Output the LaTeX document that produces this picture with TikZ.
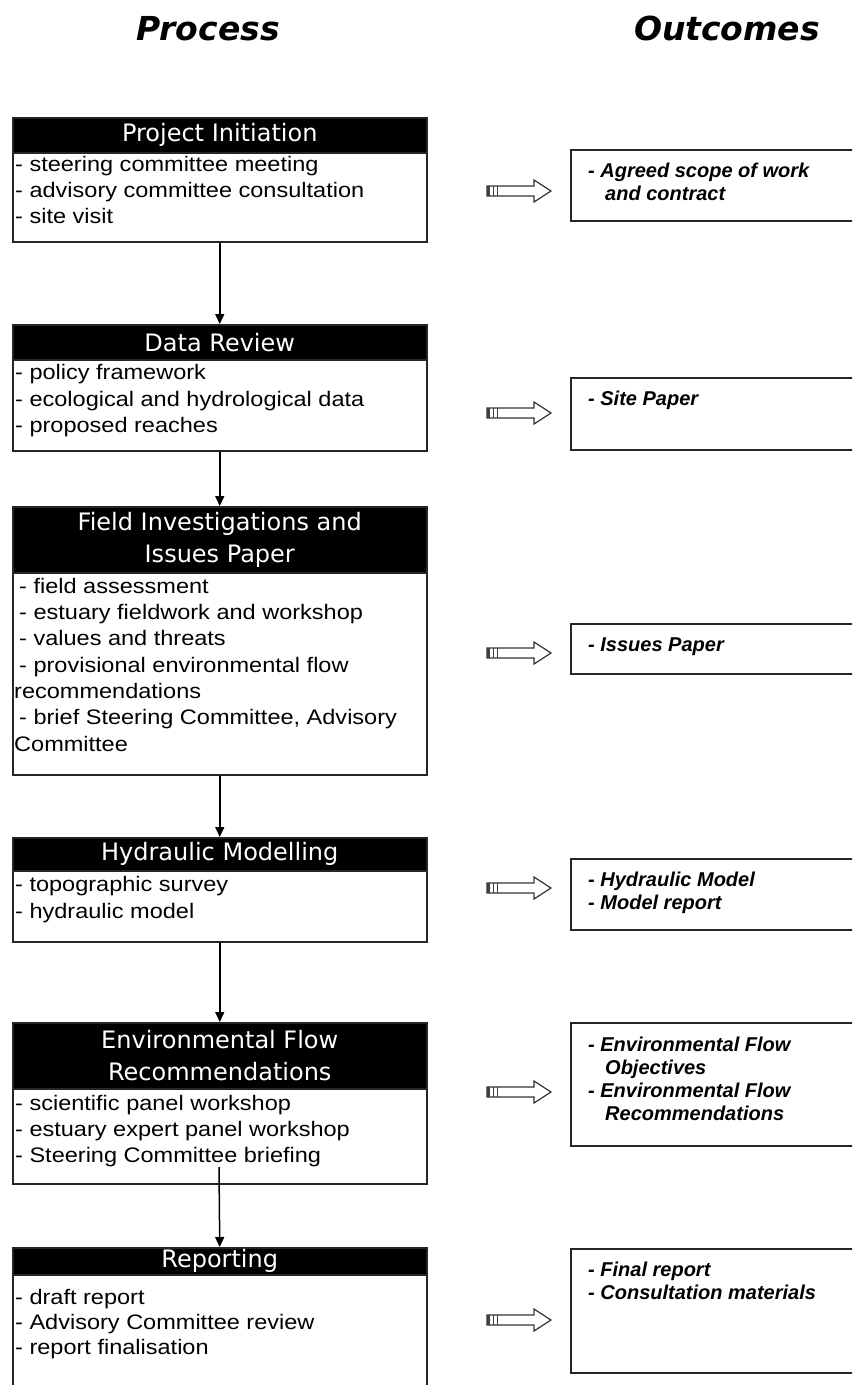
\documentclass[tikz,border=0pt]{standalone}
\usepackage{fontspec}
\setmainfont{Liberation Sans}
\newfontfamily\hdfont{DejaVu Sans}
\newfontfamily\titlefont{DejaVu Sans}
\newfontfamily\bodyfont{Liberation Sans}[FakeStretch=1.12]
\newfontfamily\outfont{Liberation Sans}
\usetikzlibrary{arrows.meta}
\begin{document}
\begin{tikzpicture}[x=1pt,y=-1pt,
  pbox/.style={draw=black!85, line width=1.5pt, rectangle, anchor=north west, inner sep=0pt, minimum width=414pt},
  phead/.style={fill=black, draw=black!85, line width=1.5pt, rectangle, anchor=north west, inner sep=0pt, minimum width=414pt, text=white, font=\hdfont\fontsize{24}{32}\selectfont, align=center},
  ptext/.style={anchor=base west, inner sep=0pt, font=\bodyfont\fontsize{21}{26}\selectfont},
  obox/.style={draw=black!85, line width=1.5pt, rectangle, anchor=north west, inner sep=0pt, minimum width=300pt},
  otext/.style={anchor=base west, inner sep=0pt, font=\outfont\bfseries\itshape\fontsize{20}{23}\selectfont},
  ttext/.style={anchor=base, inner sep=0pt, font=\titlefont\bfseries\itshape\fontsize{33}{36}\selectfont},
  flow/.style={-{Triangle[length=10pt,width=9pt]}, line width=1.5pt},
  barrow/.style={draw=black!80, line width=1.2pt, fill=white},
  barrowpic/.pic={
    \draw[barrow] (0,-5) -- (47,-5) -- (47,-11) -- (64,0) -- (47,11) -- (47,5) -- (0,5) -- cycle;
    \fill[black!75] (0,-5) rectangle (3,5);
    \draw[line width=0.8pt, black!75] (6.5,-5) -- (6.5,5) (10,-5) -- (10,5);
  }
]
\useasboundingbox (0,0) rectangle (852,1385);
\clip (0,0) rectangle (852,1385);
\fill[white] (0,0) rectangle (852,1385);

% titles
\node[ttext] (tp) at (208,40) {Process};
\node[ttext] (to) at (727,40) {Outcomes};

% Box 1
\node[pbox, minimum height=124pt] (p1) at (12,117) {};
\node[phead, minimum height=35pt] (h1) at (12,117) {Project Initiation};
\node[ptext] (t1a) at (15,171) {- steering committee meeting};
\node[ptext] (t1b) at (15,197) {- advisory committee consultation};
\node[ptext] (t1c) at (15,223) {- site visit};

% Box 2
\node[pbox, minimum height=126pt] (p2) at (12,324) {};
\node[phead, minimum height=35pt] (h2) at (12,324) {Data Review};
\node[ptext] (t2a) at (15,379) {- policy framework};
\node[ptext] (t2b) at (15,406) {- ecological and hydrological data};
\node[ptext] (t2c) at (15,432) {- proposed reaches};

% Box 3
\node[pbox, minimum height=268pt] (p3) at (12,506) {};
\node[phead, minimum height=66pt] (h3) at (12,506) {Field Investigations and\\Issues Paper};
\node[ptext] (t3a) at (19,593) {- field assessment};
\node[ptext] (t3b) at (19,619) {- estuary fieldwork and workshop};
\node[ptext] (t3c) at (19,645) {- values and threats};
\node[ptext] (t3d) at (19,672) {- provisional environmental flow};
\node[ptext] (t3e) at (14,698) {recommendations};
\node[ptext] (t3f) at (19,724) {- brief Steering Committee, Advisory};
\node[ptext] (t3g) at (14,751) {Committee};

% Box 4
\node[pbox, minimum height=104pt] (p4) at (12,837) {};
\node[phead, minimum height=33pt] (h4) at (12,837) {Hydraulic Modelling};
\node[ptext] (t4a) at (15,891) {- topographic survey};
\node[ptext] (t4b) at (15,918) {- hydraulic model};

% Box 5
\node[pbox, minimum height=161pt] (p5) at (12,1022) {};
\node[phead, minimum height=66pt] (h5) at (12,1022) {Environmental Flow\\Recommendations};
\node[ptext] (t5a) at (15,1110) {- scientific panel workshop};
\node[ptext] (t5b) at (15,1136) {- estuary expert panel workshop};
\node[ptext] (t5c) at (15,1162) {- Steering Committee briefing};

% Box 6
\node[pbox, minimum height=170pt] (p6) at (12,1247) {};
\node[phead, minimum height=27pt] (h6) at (12,1247) {Reporting};
\node[ptext] (t6a) at (15,1304) {- draft report};
\node[ptext] (t6b) at (15,1329) {- Advisory Committee review};
\node[ptext] (t6c) at (15,1354) {- report finalisation};

% process connectors
\coordinate (s5) at (219,1167);
\draw[flow] (p1.south) -- (p2.north);
\draw[flow] (p2.south) -- (p3.north);
\draw[flow] (p3.south) -- (p4.north);
\draw[flow] (p4.south) -- (p5.north);
\draw[flow] (s5) -- (p6.north);

% outcome boxes
\node[obox, minimum height=71pt] (o1) at (570,149) {};
\node[otext] (u1a) at (588,177) {- Agreed scope of work};
\node[otext] (u1b) at (605,200) {and contract};

\node[obox, minimum height=72pt] (o2) at (570,377) {};
\node[otext] (u2a) at (588,405) {- Site Paper};

\node[obox, minimum height=50pt] (o3) at (570,623) {};
\node[otext] (u3a) at (588,651) {- Issues Paper};

\node[obox, minimum height=71pt] (o4) at (570,858) {};
\node[otext] (u4a) at (588,886) {- Hydraulic Model};
\node[otext] (u4b) at (588,909) {- Model report};

\node[obox, minimum height=123pt] (o5) at (570,1022) {};
\node[otext] (u5a) at (588,1051) {- Environmental Flow};
\node[otext] (u5b) at (605,1074) {Objectives};
\node[otext] (u5c) at (588,1097) {- Environmental Flow};
\node[otext] (u5d) at (605,1120) {Recommendations};

\node[obox, minimum height=124pt] (o6) at (570,1248) {};
\node[otext] (u6a) at (588,1276) {- Final report};
\node[otext] (u6b) at (588,1299) {- Consultation materials};

% block arrows
\pic at (487,191) {barrowpic};
\pic at (487,413) {barrowpic};
\pic at (487,653) {barrowpic};
\pic at (487,888) {barrowpic};
\pic at (487,1092) {barrowpic};
\pic at (487,1320) {barrowpic};
\end{tikzpicture}
\end{document}
